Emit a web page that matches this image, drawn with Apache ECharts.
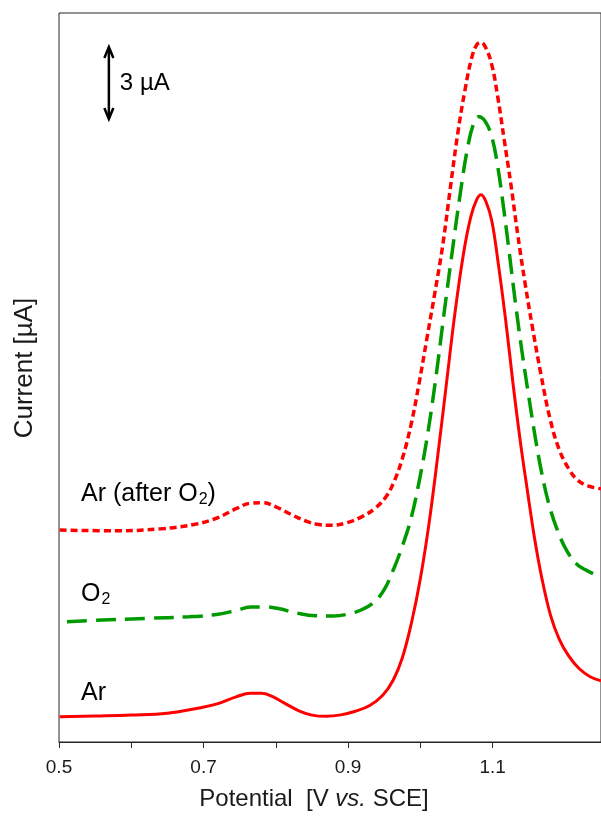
<!DOCTYPE html>
<html>
<head>
<meta charset="utf-8">
<title>Current vs potential</title>
<script src="https://cdn.jsdelivr.net/npm/echarts@6/dist/echarts.min.js"></script>
<style>
  html, body { margin: 0; padding: 0; background: #fff; }
  #chart { width: 601px; height: 817px; }
</style>
</head>
<body>
<div id="chart"></div>
<script>
// potential [V vs. SCE], current [uA] (offset traces)
var arData = [
  [0.501, 1.05], [0.55, 1.08], [0.6, 1.12], [0.65, 1.2], [0.694, 1.42],
  [0.72, 1.6], [0.745, 1.88], [0.765, 2.03], [0.78, 2.03], [0.795, 1.9],
  [0.812, 1.62], [0.832, 1.3], [0.85, 1.12], [0.87, 1.07], [0.89, 1.13],
  [0.91, 1.28], [0.93, 1.52], [0.948, 1.95], [0.962, 2.55], [0.975, 3.5],
  [0.988, 5.0], [1.0, 6.8], [1.012, 9.1], [1.024, 11.9], [1.036, 14.9],
  [1.048, 17.9], [1.06, 20.4], [1.07, 21.9], [1.078, 22.6], [1.084, 22.8],
  [1.091, 22.5], [1.099, 21.7], [1.108, 19.9], [1.118, 17.6], [1.128, 15.0],
  [1.138, 12.6], [1.148, 10.5], [1.158, 8.5], [1.168, 6.85], [1.18, 5.3],
  [1.192, 4.3], [1.205, 3.6], [1.22, 3.05], [1.235, 2.72], [1.25, 2.55]
];
var o2Data = [
  [0.511, 5.01], [0.56, 5.08], [0.62, 5.15], [0.68, 5.22], [0.72, 5.32],
  [0.745, 5.48], [0.765, 5.62], [0.785, 5.63], [0.805, 5.55], [0.828, 5.38],
  [0.855, 5.26], [0.88, 5.25], [0.9, 5.33], [0.918, 5.5], [0.935, 5.8],
  [0.95, 6.35], [0.963, 7.2], [0.975, 8.15], [0.987, 9.3], [0.998, 10.8],
  [1.01, 12.8], [1.022, 15.3], [1.033, 17.9], [1.044, 20.4], [1.055, 22.8],
  [1.065, 24.7], [1.073, 25.7], [1.081, 26.05], [1.09, 25.85], [1.099, 25.2],
  [1.107, 24.0], [1.115, 22.3], [1.123, 20.4], [1.132, 18.2], [1.141, 16.2],
  [1.15, 14.4], [1.159, 12.7], [1.168, 11.2], [1.178, 9.9], [1.19, 8.8],
  [1.203, 7.95], [1.217, 7.4], [1.23, 7.15], [1.243, 6.96]
];
var arAfterO2Data = [
  [0.501, 8.83], [0.58, 8.8], [0.64, 8.88], [0.69, 9.08], [0.72, 9.35],
  [0.745, 9.72], [0.765, 9.95], [0.782, 9.97], [0.8, 9.8], [0.82, 9.5],
  [0.842, 9.2], [0.86, 9.06], [0.878, 9.03], [0.9, 9.15], [0.92, 9.4],
  [0.938, 9.75], [0.952, 10.2], [0.963, 10.8], [0.975, 11.8], [0.987, 13.2],
  [0.998, 14.9], [1.009, 16.8], [1.02, 18.7], [1.031, 20.7], [1.042, 23.2],
  [1.052, 25.4], [1.062, 27.2], [1.071, 28.5], [1.078, 29.05], [1.084, 29.15],
  [1.091, 28.9], [1.099, 28.2], [1.107, 26.9], [1.116, 25.1], [1.125, 23.3],
  [1.135, 21.1], [1.145, 19.1], [1.155, 17.3], [1.167, 15.3], [1.18, 13.4],
  [1.192, 12.2], [1.205, 11.4], [1.218, 10.9], [1.232, 10.67], [1.25, 10.55]
];
var tickValues = [0.5, 0.6, 0.7, 0.8, 0.9, 1.0, 1.1];
var labelValues = [0.5, 0.7, 0.9, 1.1];
// scale bar: 3 uA at fixed potential
var scaleBar = { x: 0.569, from: 25.96, to: 28.96, text: '3 µA' };

var font = 'Liberation Sans, Arial, sans-serif';
var axisColor = '#262626';

var chart = echarts.init(document.getElementById('chart'));

var sub = { fontSize: 16, fontFamily: font, fill: '#000', verticalAlign: 'bottom', padding: [12, 0, 0, 1] };

var option = {
  animation: false,
  backgroundColor: '#fff',
  grid: {
    left: 59, right: -2, top: 13, bottom: 75,
    show: true, borderColor: axisColor, borderWidth: 1, backgroundColor: 'transparent'
  },
  xAxis: {
    type: 'value', min: 0.5, max: 1.25, interval: 0.1,
    axisLine: { lineStyle: { color: axisColor, width: 1 } },
    axisTick: { customValues: tickValues, length: 6, lineStyle: { color: axisColor } },
    axisLabel: {
      customValues: labelValues, fontSize: 19, color: '#1a1a1a', fontFamily: font, margin: 16,
      formatter: function (v) { return v.toFixed(1); }
    },
    splitLine: { show: false }
  },
  yAxis: {
    type: 'value', min: 0, max: 30.375,
    axisLine: { show: false }, axisTick: { show: false },
    axisLabel: { show: false }, splitLine: { show: false }
  },
  series: [
    {
      name: 'Ar (after O2)', type: 'line', data: arAfterO2Data, showSymbol: false, smooth: 0.4,
      lineStyle: { color: '#ff0000', width: 3.5, type: [7, 4] }
    },
    {
      name: 'O2', type: 'line', data: o2Data, showSymbol: false, smooth: 0.4,
      lineStyle: { color: '#009a00', width: 3.5, type: [20, 9] }
    },
    {
      name: 'Ar', type: 'line', data: arData, showSymbol: false, smooth: 0.4,
      lineStyle: { color: '#ff0000', width: 3 }
    }
  ]
};
chart.setOption(option);

// annotations
var barTop = chart.convertToPixel({ xAxisIndex: 0, yAxisIndex: 0 }, [scaleBar.x, scaleBar.to]);
var barBot = chart.convertToPixel({ xAxisIndex: 0, yAxisIndex: 0 }, [scaleBar.x, scaleBar.from]);
var arrowStyle = { stroke: '#000', lineWidth: 2.5, fill: null };

chart.setOption({
  graphic: [
    { type: 'line', shape: { x1: barTop[0], y1: barTop[1] + 1, x2: barBot[0], y2: barBot[1] - 1 }, style: arrowStyle },
    { type: 'polyline', shape: { points: [[barTop[0] - 4.5, barTop[1] + 11], [barTop[0], barTop[1]], [barTop[0] + 4.5, barTop[1] + 11]] }, style: arrowStyle },
    { type: 'polyline', shape: { points: [[barBot[0] - 4.5, barBot[1] - 11], [barBot[0], barBot[1]], [barBot[0] + 4.5, barBot[1] - 11]] }, style: arrowStyle },
    {
      type: 'text', x: barTop[0] + 11, y: (barTop[1] + barBot[1]) / 2,
      style: { text: scaleBar.text, fontSize: 24, fontFamily: font, fill: '#000', verticalAlign: 'middle' }
    },
    {
      type: 'text', x: 81, y: 494,
      style: {
        text: 'Ar (after O{s|2})', fontSize: 25, fontFamily: font, fill: '#000', verticalAlign: 'middle',
        rich: { s: sub }
      }
    },
    {
      type: 'text', x: 81, y: 594,
      style: { text: 'O{s|2}', fontSize: 25, fontFamily: font, fill: '#000', verticalAlign: 'middle', rich: { s: sub } }
    },
    {
      type: 'text', x: 81, y: 693,
      style: { text: 'Ar', fontSize: 25, fontFamily: font, fill: '#000', verticalAlign: 'middle' }
    },
    {
      type: 'text', x: 314, y: 799,
      style: {
        text: 'Potential  [V {i|vs.} SCE]', fontSize: 24, fontFamily: font, fill: '#1a1a1a',
        align: 'center', verticalAlign: 'middle',
        rich: { i: { fontSize: 24, fontFamily: font, fontStyle: 'italic', fill: '#1a1a1a' } }
      }
    },
    {
      type: 'text', x: 25, y: 368, rotation: Math.PI / 2,
      style: {
        text: 'Current [µA]', fontSize: 26, fontFamily: font, fill: '#1a1a1a',
        align: 'center', verticalAlign: 'middle'
      }
    }
  ]
});
</script>
</body>
</html>
